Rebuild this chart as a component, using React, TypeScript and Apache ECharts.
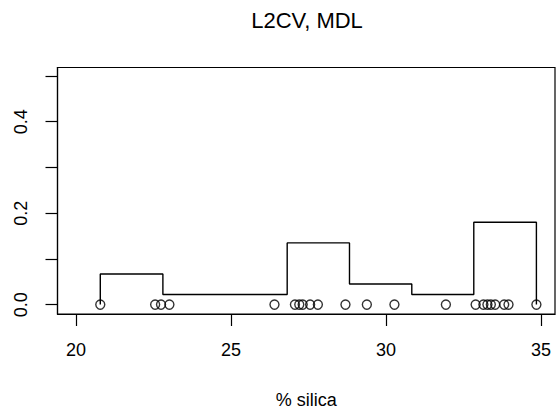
import React, { useEffect, useRef } from "react";
import * as echarts from "echarts";

// Histogram breaks (bin edges) and densities
const breaks = [20.78, 22.8, 26.81, 28.82, 30.83, 32.83, 34.85];
const densities = [0.067, 0.022, 0.135, 0.045, 0.022, 0.18];

// Observations (% silica), drawn as open circles at density 0
const silica = [
  20.78, 22.55, 22.74, 23.01, 26.4, 27.06, 27.2, 27.31, 27.55, 27.8, 28.69,
  29.38, 30.27, 31.93, 32.89, 33.14, 33.27, 33.38, 33.52, 33.81, 33.95, 34.85,
];

const xTicks = [20, 25, 30, 35];
const yTicks = [0, 0.1, 0.2, 0.3, 0.4, 0.5];
const yLabels = [0, 0.2, 0.4];

const titleText = "L2CV, MDL";
const xName = "% silica";

const FONT = "'Liberation Sans', Arial, Helvetica, sans-serif";

export default function App() {
  const ref = useRef<HTMLDivElement>(null);

  useEffect(() => {
    if (!ref.current) return;
    const chart = echarts.init(ref.current, null, { renderer: "svg" });

    const stepData: number[][] = [[breaks[0], 0]];
    for (let i = 0; i < densities.length; i++) {
      stepData.push([breaks[i], densities[i]]);
      stepData.push([breaks[i + 1], densities[i]]);
    }
    stepData.push([breaks[breaks.length - 1], 0]);

    chart.setOption({
      animation: false,
      backgroundColor: "#ffffff",
      textStyle: { fontFamily: FONT },
      graphic: [
        {
          type: "text",
          x: 307,
          y: 20,
          style: {
            text: titleText,
            fontSize: 22,
            fontFamily: FONT,
            fill: "#000",
            textAlign: "center",
            textVerticalAlign: "middle",
          },
        },
      ],
      grid: {
        left: 57.5,
        top: 67.5,
        right: 1,
        bottom: 103,
        show: true,
        borderColor: "#000",
        borderWidth: 1.2,
        backgroundColor: "transparent",
        containLabel: false,
        outerBoundsMode: "none",
      },
      xAxis: {
        type: "value",
        min: 19.4,
        max: 35.45,
        name: xName,
        nameLocation: "middle",
        nameGap: 77,
        nameTextStyle: { fontSize: 18, color: "#000", fontFamily: FONT },
        axisLine: { show: true, onZero: false, lineStyle: { color: "#000", width: 1.2 } },
        splitLine: { show: false },
        axisTick: {
          show: true,
          inside: false,
          length: 12,
          customValues: xTicks,
          lineStyle: { color: "#000", width: 1.2 },
        },
        axisLabel: {
          customValues: xTicks,
          fontSize: 18,
          color: "#000",
          margin: 27,
          fontFamily: FONT,
        },
      },
      yAxis: {
        type: "value",
        min: -0.0205,
        max: 0.5185,
        axisLine: { show: true, onZero: false, lineStyle: { color: "#000", width: 1.2 } },
        splitLine: { show: false },
        axisTick: {
          show: true,
          inside: false,
          length: 12,
          customValues: yTicks,
          lineStyle: { color: "#000", width: 1.2 },
        },
        axisLabel: {
          customValues: yLabels,
          rotate: 90,
          fontSize: 18,
          color: "#000",
          margin: 28,
          fontFamily: FONT,
          formatter: (v: number) => v.toFixed(1),
        },
      },
      series: [
        {
          type: "line",
          data: stepData,
          symbol: "none",
          lineStyle: { color: "#000", width: 1.4 },
          z: 2,
        },
        {
          type: "scatter",
          data: silica.map((v) => [v, 0]),
          symbol: "circle",
          symbolSize: 9,
          itemStyle: { color: "transparent", borderColor: "#000", borderWidth: 1.4 },
          z: 3,
        },
      ],
    });

    return () => chart.dispose();
  }, []);

  return <div ref={ref} style={{ width: 556, height: 417, position: "absolute", left: 0, top: 0 }} />;
}
